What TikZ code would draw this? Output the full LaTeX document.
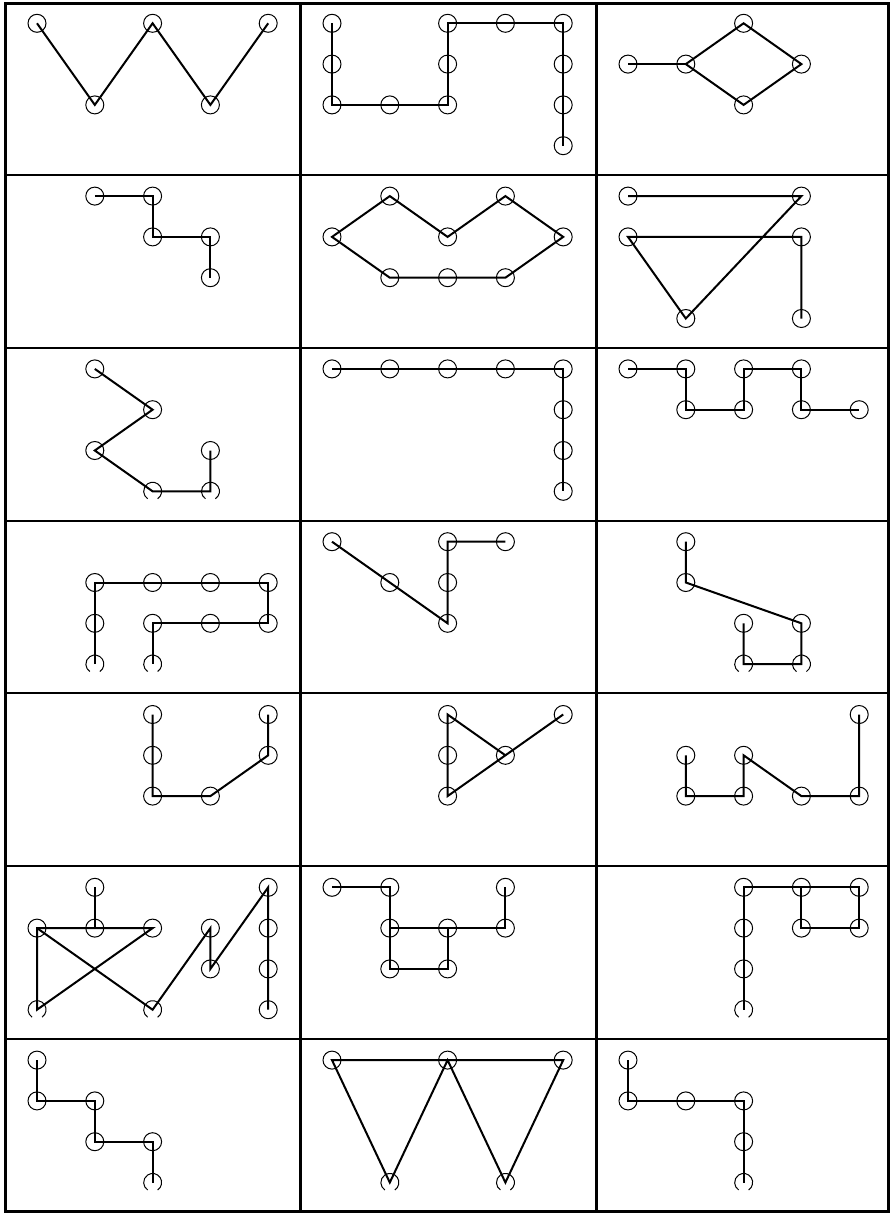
\documentclass[tikz,border=0pt]{standalone}
\usepackage{tikz}

% ring whose lower part is cut off (bottom row of some panels)
\newcommand{\cutspot}[2]{%
  \node [spot, draw=none] (#1) at #2 {};
  \draw [ring] (#1.-56.4) arc [start angle=56.4, end angle=-236.4, radius=6.75pt];
}

\begin{document}
\begin{tikzpicture}[x=0.75pt,y=0.75pt,yscale=-1,xscale=1,
  spot/.style={circle, draw, line width=0.75pt, minimum size=13.5pt, inner sep=0pt, outer sep=0pt},
  ring/.style={line width=0.75pt},
  link/.style={line width=1.5pt, line join=miter},
  frame/.style={line width=2.25pt},
  rule/.style={line width=1.5pt},
  cell/.style 2 args={shift={(#1,#2)}, x=43.35pt, y=30.6pt}]
\useasboundingbox (0,0) rectangle (891,1213);

%Table lines
\draw [frame] (5,3.3) rectangle (888,1211.5);
\draw [frame] (300,3.3) -- (300,1211.5);
\draw [frame] (596,3.3) -- (596,1211.5);
\foreach \y in {175,348,520.5,693,866,1039.3}
  \draw [rule] (5,\y) -- (888,\y);

%Panel row 1, col 1
\begin{scope}[cell={37}{23.3}]
\node [spot] (a1) at (0,0) {};
\node [spot] (a2) at (1,2) {};
\node [spot] (a3) at (2,0) {};
\node [spot] (a4) at (3,2) {};
\node [spot] (a5) at (4,0) {};
\draw [link] (a1.center) -- (a2.center) -- (a3.center) -- (a4.center) -- (a5.center);
\end{scope}

%Panel row 1, col 2
\begin{scope}[cell={332}{23.3}]
\node [spot] (b1) at (0,0) {};
\node [spot] (b2) at (0,1) {};
\node [spot] (b3) at (0,2) {};
\node [spot] (b4) at (1,2) {};
\node [spot] (b5) at (2,2) {};
\node [spot] (b6) at (2,1) {};
\node [spot] (b7) at (2,0) {};
\node [spot] (b8) at (3,0) {};
\node [spot] (b9) at (4,0) {};
\node [spot] (b10) at (4,1) {};
\node [spot] (b11) at (4,2) {};
\node [spot] (b12) at (4,3) {};
\draw [link] (b1.center) -- (b2.center) -- (b3.center) -- (b4.center) -- (b5.center) -- (b6.center)
  -- (b7.center) -- (b8.center) -- (b9.center) -- (b10.center) -- (b11.center) -- (b12.center);
\end{scope}

%Panel row 1, col 3
\begin{scope}[cell={628}{23.3}]
\node [spot] (c1) at (0,1) {};
\node [spot] (c2) at (1,1) {};
\node [spot] (c3) at (2,0) {};
\node [spot] (c4) at (3,1) {};
\node [spot] (c5) at (2,2) {};
\draw [link] (c1.center) -- (c2.center);
\draw [link] (c2.center) -- (c3.center) -- (c4.center) -- (c5.center) -- cycle;
\end{scope}

%Panel row 2, col 1
\begin{scope}[cell={37}{196.1}]
\node [spot] (d1) at (1,0) {};
\node [spot] (d2) at (2,0) {};
\node [spot] (d3) at (2,1) {};
\node [spot] (d4) at (3,1) {};
\node [spot] (d5) at (3,2) {};
\draw [link] (d1.center) -- (d2.center) -- (d3.center) -- (d4.center) -- (d5.center);
\end{scope}

%Panel row 2, col 2
\begin{scope}[cell={332}{196.1}]
\node [spot] (e1) at (0,1) {};
\node [spot] (e2) at (1,0) {};
\node [spot] (e3) at (2,1) {};
\node [spot] (e4) at (3,0) {};
\node [spot] (e5) at (4,1) {};
\node [spot] (e6) at (3,2) {};
\node [spot] (e7) at (2,2) {};
\node [spot] (e8) at (1,2) {};
\draw [link] (e1.center) -- (e2.center) -- (e3.center) -- (e4.center) -- (e5.center) -- (e6.center)
  -- (e7.center) -- (e8.center) -- cycle;
\end{scope}

%Panel row 2, col 3
\begin{scope}[cell={628}{196.1}]
\node [spot] (f1) at (0,0) {};
\node [spot] (f2) at (3,0) {};
\node [spot] (f3) at (0,1) {};
\node [spot] (f4) at (3,1) {};
\node [spot] (f5) at (1,3) {};
\node [spot] (f6) at (3,3) {};
\draw [link] (f1.center) -- (f2.center) -- (f5.center) -- (f3.center) -- (f4.center) -- (f6.center);
\end{scope}

%Panel row 3, col 1
\begin{scope}[cell={37}{368.9}]
\node [spot] (g1) at (1,0) {};
\node [spot] (g2) at (2,1) {};
\node [spot] (g3) at (1,2) {};
\cutspot{g4}{(2,3)}
\cutspot{g5}{(3,3)}
\node [spot] (g6) at (3,2) {};
\draw [link] (g1.center) -- (g2.center) -- (g3.center) -- (g4.center) -- (g5.center) -- (g6.center);
\end{scope}

%Panel row 3, col 2
\begin{scope}[cell={332}{368.9}]
\node [spot] (h1) at (0,0) {};
\node [spot] (h2) at (1,0) {};
\node [spot] (h3) at (2,0) {};
\node [spot] (h4) at (3,0) {};
\node [spot] (h5) at (4,0) {};
\node [spot] (h6) at (4,1) {};
\node [spot] (h7) at (4,2) {};
\node [spot] (h8) at (4,3) {};
\draw [link] (h1.center) -- (h2.center) -- (h3.center) -- (h4.center) -- (h5.center) -- (h6.center)
  -- (h7.center) -- (h8.center);
\end{scope}

%Panel row 3, col 3
\begin{scope}[cell={628}{368.9}]
\node [spot] (i1) at (0,0) {};
\node [spot] (i2) at (1,0) {};
\node [spot] (i3) at (1,1) {};
\node [spot] (i4) at (2,1) {};
\node [spot] (i5) at (2,0) {};
\node [spot] (i6) at (3,0) {};
\node [spot] (i7) at (3,1) {};
\node [spot] (i8) at (4,1) {};
\draw [link] (i1.center) -- (i2.center) -- (i3.center) -- (i4.center) -- (i5.center) -- (i6.center)
  -- (i7.center) -- (i8.center);
\end{scope}

%Panel row 4, col 1
\begin{scope}[cell={37}{541.7}]
\cutspot{j1}{(1,3)}
\node [spot] (j2) at (1,2) {};
\node [spot] (j3) at (1,1) {};
\node [spot] (j4) at (2,1) {};
\node [spot] (j5) at (3,1) {};
\node [spot] (j6) at (4,1) {};
\node [spot] (j7) at (4,2) {};
\node [spot] (j8) at (3,2) {};
\node [spot] (j9) at (2,2) {};
\cutspot{j10}{(2,3)}
\draw [link] (j1.center) -- (j2.center) -- (j3.center) -- (j4.center) -- (j5.center) -- (j6.center)
  -- (j7.center) -- (j8.center) -- (j9.center) -- (j10.center);
\end{scope}

%Panel row 4, col 2
\begin{scope}[cell={332}{541.7}]
\node [spot] (k1) at (0,0) {};
\node [spot] (k2) at (1,1) {};
\node [spot] (k3) at (2,2) {};
\node [spot] (k4) at (2,1) {};
\node [spot] (k5) at (2,0) {};
\node [spot] (k6) at (3,0) {};
\draw [link] (k1.center) -- (k2.center) -- (k3.center) -- (k4.center) -- (k5.center) -- (k6.center);
\end{scope}

%Panel row 4, col 3
\begin{scope}[cell={628}{541.7}]
\node [spot] (l1) at (1,0) {};
\node [spot] (l2) at (1,1) {};
\node [spot] (l3) at (3,2) {};
\cutspot{l4}{(3,3)}
\cutspot{l5}{(2,3)}
\node [spot] (l6) at (2,2) {};
\draw [link] (l1.center) -- (l2.center) -- (l3.center) -- (l4.center) -- (l5.center) -- (l6.center);
\end{scope}

%Panel row 5, col 1
\begin{scope}[cell={37}{714.5}]
\node [spot] (m1) at (2,0) {};
\node [spot] (m2) at (2,1) {};
\node [spot] (m3) at (2,2) {};
\node [spot] (m4) at (3,2) {};
\node [spot] (m5) at (4,1) {};
\node [spot] (m6) at (4,0) {};
\draw [link] (m1.center) -- (m2.center) -- (m3.center) -- (m4.center) -- (m5.center) -- (m6.center);
\end{scope}

%Panel row 5, col 2
\begin{scope}[cell={332}{714.5}]
\node [spot] (n1) at (2,0) {};
\node [spot] (n2) at (2,1) {};
\node [spot] (n3) at (2,2) {};
\node [spot] (n4) at (3,1) {};
\node [spot] (n5) at (4,0) {};
\draw [link] (n5.center) -- (n4.center) -- (n3.center) -- (n2.center) -- (n1.center) -- (n4.center);
\end{scope}

%Panel row 5, col 3
\begin{scope}[cell={628}{714.5}]
\node [spot] (o1) at (1,1) {};
\node [spot] (o2) at (1,2) {};
\node [spot] (o3) at (2,2) {};
\node [spot] (o4) at (2,1) {};
\node [spot] (o5) at (3,2) {};
\node [spot] (o6) at (4,2) {};
\node [spot] (o7) at (4,0) {};
\draw [link] (o1.center) -- (o2.center) -- (o3.center) -- (o4.center) -- (o5.center) -- (o6.center)
  -- (o7.center);
\end{scope}

%Panel row 6, col 1
\begin{scope}[cell={37}{887.3}]
\node [spot] (p1) at (1,0) {};
\node [spot] (p2) at (0,1) {};
\node [spot] (p3) at (1,1) {};
\node [spot] (p4) at (2,1) {};
\cutspot{p5}{(0,3)}
\cutspot{p6}{(2,3)}
\node [spot] (p7) at (3,1) {};
\node [spot] (p8) at (3,2) {};
\node [spot] (p9) at (4,0) {};
\node [spot] (p10) at (4,1) {};
\node [spot] (p11) at (4,2) {};
\node [spot] (p12) at (4,3) {};
\draw [link] (p1.center) -- (p3.center);
\draw [link] (p5.center) -- (p4.center) -- (p2.center) -- cycle;
\draw [link] (p2.center) -- (p6.center) -- (p7.center) -- (p8.center) -- (p9.center) -- (p12.center);
\end{scope}

%Panel row 6, col 2
\begin{scope}[cell={332}{887.3}]
\node [spot] (q1) at (0,0) {};
\node [spot] (q2) at (1,0) {};
\node [spot] (q3) at (1,1) {};
\node [spot] (q4) at (1,2) {};
\node [spot] (q5) at (2,2) {};
\node [spot] (q6) at (2,1) {};
\node [spot] (q7) at (3,1) {};
\node [spot] (q8) at (3,0) {};
\draw [link] (q1.center) -- (q2.center) -- (q3.center) -- (q4.center) -- (q5.center) -- (q6.center);
\draw [link] (q3.center) -- (q7.center) -- (q8.center);
\end{scope}

%Panel row 6, col 3
\begin{scope}[cell={628}{887.3}]
\node [spot] (r1) at (2,0) {};
\node [spot] (r2) at (3,0) {};
\node [spot] (r3) at (4,0) {};
\node [spot] (r4) at (3,1) {};
\node [spot] (r5) at (4,1) {};
\node [spot] (r6) at (2,1) {};
\node [spot] (r7) at (2,2) {};
\cutspot{r8}{(2,3)}
\draw [link] (r8.center) -- (r7.center) -- (r6.center) -- (r1.center) -- (r2.center) -- (r3.center)
  -- (r5.center) -- (r4.center) -- (r2.center);
\end{scope}

%Panel row 7, col 1
\begin{scope}[cell={37}{1060.1}]
\node [spot] (s1) at (0,0) {};
\node [spot] (s2) at (0,1) {};
\node [spot] (s3) at (1,1) {};
\node [spot] (s4) at (1,2) {};
\node [spot] (s5) at (2,2) {};
\cutspot{s6}{(2,3)}
\draw [link] (s1.center) -- (s2.center) -- (s3.center) -- (s4.center) -- (s5.center) -- (s6.center);
\end{scope}

%Panel row 7, col 2
\begin{scope}[cell={332}{1060.1}]
\node [spot] (t1) at (0,0) {};
\node [spot] (t2) at (2,0) {};
\node [spot] (t3) at (4,0) {};
\cutspot{t4}{(1,3)}
\cutspot{t5}{(3,3)}
\draw [link] (t1.center) -- (t4.center) -- (t2.center) -- (t5.center) -- (t3.center) -- cycle;
\end{scope}

%Panel row 7, col 3
\begin{scope}[cell={628}{1060.1}]
\node [spot] (u1) at (0,0) {};
\node [spot] (u2) at (0,1) {};
\node [spot] (u3) at (1,1) {};
\node [spot] (u4) at (2,1) {};
\node [spot] (u5) at (2,2) {};
\cutspot{u6}{(2,3)}
\draw [link] (u1.center) -- (u2.center) -- (u3.center) -- (u4.center) -- (u5.center) -- (u6.center);
\end{scope}

\end{tikzpicture}
\end{document}
